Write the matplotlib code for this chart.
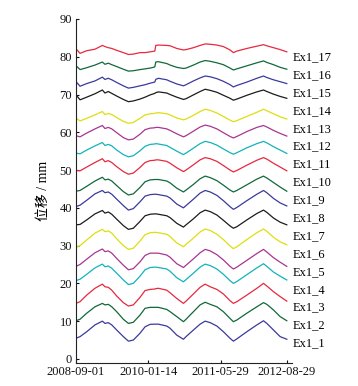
import matplotlib
matplotlib.use("Agg")
import matplotlib.pyplot as plt
import matplotlib.dates as mdates
import numpy as np
import pandas as pd

# datumy mereni
dates = ["2008-09-01", "2008-10-01", "2008-11-16", "2009-01-12", "2009-03-04",
         "2009-03-22", "2009-04-14", "2009-05-08", "2009-06-11", "2009-07-27",
         "2009-08-31", "2009-10-04", "2009-11-19", "2009-12-24", "2010-01-28",
         "2010-03-01", "2010-03-08", "2010-03-26", "2010-05-23", "2010-06-15",
         "2010-07-31", "2010-09-15", "2010-10-03", "2010-11-23", "2011-01-08",
         "2011-02-12", "2011-03-19", "2011-05-04", "2011-06-18", "2011-08-03",
         "2011-08-26", "2011-09-19", "2011-11-27", "2012-02-04", "2012-03-21",
         "2012-04-13", "2012-05-29", "2012-07-14", "2012-08-29"]

ex1_1 = [5.45, 5.9, 7.2, 9.0, 10.0, 9.4, 9.6, 9.0, 7.65, 5.9, 4.7, 5.0, 6.8, 8.5, 9.15,
         9.2, 9.2, 9.2, 8.7, 8.1, 6.3, 5.2, 5.9, 7.65, 9.2, 10.0, 9.6, 8.7, 7.2, 5.45,
         4.7, 5.3, 7.2, 9.0, 10.1, 9.4, 7.65, 5.9, 5.2]
ex1_2 = [10.1, 10.5, 12.1, 13.8, 14.7, 14.3, 14.45, 13.8, 12.5, 10.5, 9.4, 9.7, 11.6, 13.4, 13.65,
         13.65, 13.65, 13.65, 13.1, 12.5, 11.2, 9.85, 10.5, 12.5, 14.3, 15.0, 14.45, 13.8, 12.5, 10.7,
         9.85, 10.3, 12.1, 13.8, 14.9, 14.45, 12.95, 11.2, 10.1]
ex1_3 = [14.7, 15.15, 16.9, 18.7, 19.8, 19.1, 18.95, 18.2, 16.65, 14.9, 14.0, 14.3, 16.3, 18.1, 18.4,
         18.5, 18.6, 18.7, 18.2, 17.5, 16.0, 14.7, 15.3, 17.2, 18.95, 19.8, 19.1, 18.4, 17.2, 15.4,
         14.7, 15.15, 16.9, 18.7, 20.0, 19.3, 17.8, 16.5, 15.3]
ex1_4 = [20.7, 21.1, 22.4, 24.1, 25.1, 24.4, 24.6, 24.0, 22.7, 20.9, 19.7, 20.0, 21.9, 23.6, 24.2,
         24.3, 24.3, 24.2, 23.8, 23.2, 21.5, 20.4, 21.0, 22.7, 24.3, 25.1, 24.7, 23.8, 22.4, 20.7,
         20.0, 20.5, 22.3, 24.1, 25.2, 24.5, 23.0, 21.9, 20.9]
ex1_5 = [24.5, 25.0, 26.4, 28.1, 29.1, 28.4, 28.6, 28.0, 26.6, 24.8, 23.6, 23.9, 25.7, 27.4, 28.0,
         28.0, 28.0, 28.0, 27.5, 26.9, 25.2, 24.2, 24.8, 26.5, 28.1, 29.0, 28.6, 27.6, 26.2, 24.5,
         23.8, 24.3, 26.1, 27.9, 29.0, 28.3, 26.8, 25.6, 24.5]
ex1_6 = [29.5, 30.0, 31.5, 33.3, 34.3, 33.7, 33.9, 33.3, 31.8, 30.0, 29.0, 29.3, 31.2, 32.9, 33.4,
         33.5, 33.5, 33.4, 33.0, 32.4, 30.7, 29.7, 30.3, 32.0, 33.6, 34.4, 34.0, 33.0, 31.6, 29.9,
         29.2, 29.7, 31.6, 33.4, 34.4, 33.8, 32.2, 31.0, 30.2]
ex1_7 = [35.5, 35.6, 36.8, 38.4, 39.3, 38.6, 38.9, 38.3, 37.0, 35.3, 34.3, 34.6, 36.4, 37.9, 38.3,
         38.4, 38.4, 38.3, 37.9, 37.4, 35.9, 34.9, 35.5, 37.1, 38.7, 39.4, 39.0, 38.1, 36.7, 35.2,
         34.6, 35.0, 36.8, 38.5, 39.4, 38.8, 37.3, 36.2, 35.5]
ex1_8 = [40.3, 40.7, 42.0, 43.7, 44.6, 44.0, 44.2, 43.6, 42.3, 40.6, 39.4, 39.8, 41.6, 43.1, 43.5,
         43.6, 43.6, 43.5, 43.1, 42.6, 41.0, 40.0, 40.6, 42.3, 43.9, 44.6, 44.2, 43.3, 41.9, 40.3,
         39.6, 40.1, 41.9, 43.6, 44.6, 44.0, 42.5, 41.3, 40.5]
ex1_9 = [44.4, 44.6, 45.7, 47.1, 48.1, 47.4, 47.6, 47.1, 45.9, 44.3, 43.4, 43.7, 45.4, 46.9, 47.4,
         47.5, 47.5, 47.5, 47.1, 46.6, 45.2, 44.2, 44.7, 46.2, 47.7, 48.4, 48.0, 47.2, 46.0, 44.7,
         44.2, 44.6, 46.1, 47.6, 48.4, 47.9, 46.7, 45.5, 44.4]
ex1_10 = [49.9, 49.8, 50.8, 52.0, 53.0, 52.2, 52.5, 52.0, 50.9, 49.6, 48.9, 49.2, 50.7, 52.0, 52.5,
          52.6, 52.7, 52.7, 52.3, 51.8, 50.6, 49.6, 50.0, 51.4, 52.7, 53.3, 53.0, 52.3, 51.2, 50.0,
          49.5, 49.9, 51.3, 52.6, 53.3, 52.9, 51.8, 50.8, 49.8]
ex1_11 = [54.5, 54.3, 55.3, 56.4, 57.3, 56.5, 56.8, 56.4, 55.3, 54.1, 53.5, 53.8, 55.1, 56.3, 56.8,
          56.9, 57.0, 56.9, 56.5, 56.0, 55.0, 54.1, 54.5, 55.8, 57.0, 57.6, 57.3, 56.6, 55.6, 54.6,
          54.2, 54.6, 55.9, 57.0, 57.6, 57.2, 56.2, 55.3, 54.4]
ex1_12 = [59.1, 58.8, 59.8, 60.9, 61.8, 61.0, 61.3, 60.9, 59.9, 58.6, 58.0, 58.2, 59.5, 60.7, 61.1,
          61.2, 61.3, 61.3, 60.9, 60.5, 59.6, 58.8, 59.1, 60.3, 61.4, 61.9, 61.6, 60.9, 59.9, 58.9,
          58.5, 58.9, 60.2, 61.3, 61.8, 61.4, 60.5, 59.7, 59.0]
ex1_13 = [63.8, 63.0, 63.7, 64.6, 65.5, 64.7, 65.0, 64.7, 63.9, 62.9, 62.4, 62.6, 63.7, 64.6, 64.9,
          65.0, 65.1, 65.2, 64.9, 64.6, 63.8, 63.3, 63.5, 64.5, 65.5, 66.1, 65.8, 65.1, 64.2, 63.2,
          62.8, 63.1, 64.2, 65.3, 66.1, 65.7, 64.9, 64.1, 63.5]
ex1_14 = [70.0, 68.6, 69.3, 70.2, 71.2, 70.4, 70.8, 70.3, 69.6, 68.7, 68.1, 68.3, 68.8, 69.3, 69.9,
          70.3, 70.5, 70.7, 70.4, 70.0, 69.3, 68.7, 68.9, 69.9, 70.8, 71.4, 71.1, 70.6, 69.8, 69.0,
          68.5, 68.8, 69.8, 70.7, 71.2, 70.8, 70.1, 69.5, 69.0]
ex1_15 = [73.5, 72.2, 72.9, 73.6, 74.6, 74.0, 74.3, 73.9, 73.2, 72.3, 71.7, 71.9, 72.3, 72.6, 73.0,
          73.3, 74.0, 74.3, 73.9, 73.5, 72.8, 72.3, 72.6, 73.6, 74.4, 74.9, 74.7, 74.2, 73.5, 72.6,
          72.0, 72.4, 73.3, 74.3, 74.9, 74.5, 73.9, 73.4, 72.9]
ex1_16 = [77.7, 76.6, 77.1, 77.8, 78.6, 78.0, 78.3, 77.9, 77.4, 76.7, 76.2, 76.3, 76.6, 76.8, 77.0,
          77.3, 78.6, 78.7, 78.2, 77.8, 77.2, 76.9, 77.0, 77.8, 78.6, 79.0, 78.8, 78.4, 77.9, 77.0,
          76.5, 76.8, 77.6, 78.4, 78.9, 78.5, 77.9, 77.2, 76.7]
ex1_17 = [82.2, 80.9, 81.6, 82.0, 83.0, 82.7, 82.4, 82.2, 81.7, 81.1, 80.6, 80.7, 81.1, 81.1, 81.3,
          81.5, 83.0, 83.1, 83.0, 82.9, 82.2, 81.8, 81.9, 82.4, 83.0, 83.4, 83.3, 83.1, 82.7, 81.8,
          81.1, 81.5, 82.2, 82.8, 83.2, 82.9, 82.4, 81.9, 81.3]

series = [ex1_1, ex1_2, ex1_3, ex1_4, ex1_5, ex1_6, ex1_7, ex1_8, ex1_9,
          ex1_10, ex1_11, ex1_12, ex1_13, ex1_14, ex1_15, ex1_16, ex1_17]
names = ["Ex1_%d" % (i + 1) for i in range(len(series))]

xticks = ["2008-09-01", "2010-01-14", "2011-05-29", "2012-08-29"]
yticks = [0, 10, 20, 30, 40, 50, 60, 70, 80, 90]

# barvy jako v matlabu (b g r c m y k)
colors = ["#3a3a9c", "#10693a", "#e8283f", "#12b3bb", "#a83592", "#dede10", "#1c1c1c"]


def main():
    plt.rcParams["font.family"] = ["Liberation Serif", "Noto Sans CJK SC"]
    plt.rcParams["font.size"] = 9

    fig = plt.figure(figsize=(3.58, 3.86), dpi=100)
    ax = fig.add_axes([0.2115, 0.0604, 0.6034, 0.8904])

    x = pd.to_datetime(dates)
    for i, vals in enumerate(series):
        ax.plot(x, vals, color=colors[i % len(colors)], linewidth=0.9)

    ax.set_xlim(pd.Timestamp("2008-09-01"), pd.Timestamp("2012-10-02"))
    ax.set_ylim(-1, 90)
    ax.set_xticks(pd.to_datetime(xticks))
    ax.xaxis.set_major_formatter(mdates.DateFormatter("%Y-%m-%d"))
    ax.set_yticks(yticks)

    ax.spines["top"].set_visible(False)
    ax.spines["right"].set_visible(False)
    for s in ["left", "bottom"]:
        ax.spines[s].set_linewidth(0.8)
        ax.spines[s].set_color("#222222")
    ax.tick_params(direction="in", length=2.5, width=0.8, pad=2.5, colors="#111111")

    ax.set_ylabel("位移 / mm", fontsize=10)
    ax.yaxis.set_label_coords(-0.12, 0.5)

    # popisky vpravo
    label_y = np.linspace(4.1, 79.9, len(names))
    for name, ly in zip(names, label_y):
        ax.text(1.006, ly, name, transform=ax.get_yaxis_transform(),
                ha="left", va="center", fontsize=9)

    fig.savefig("out.png", dpi=100)


if __name__ == "__main__":
    main()
